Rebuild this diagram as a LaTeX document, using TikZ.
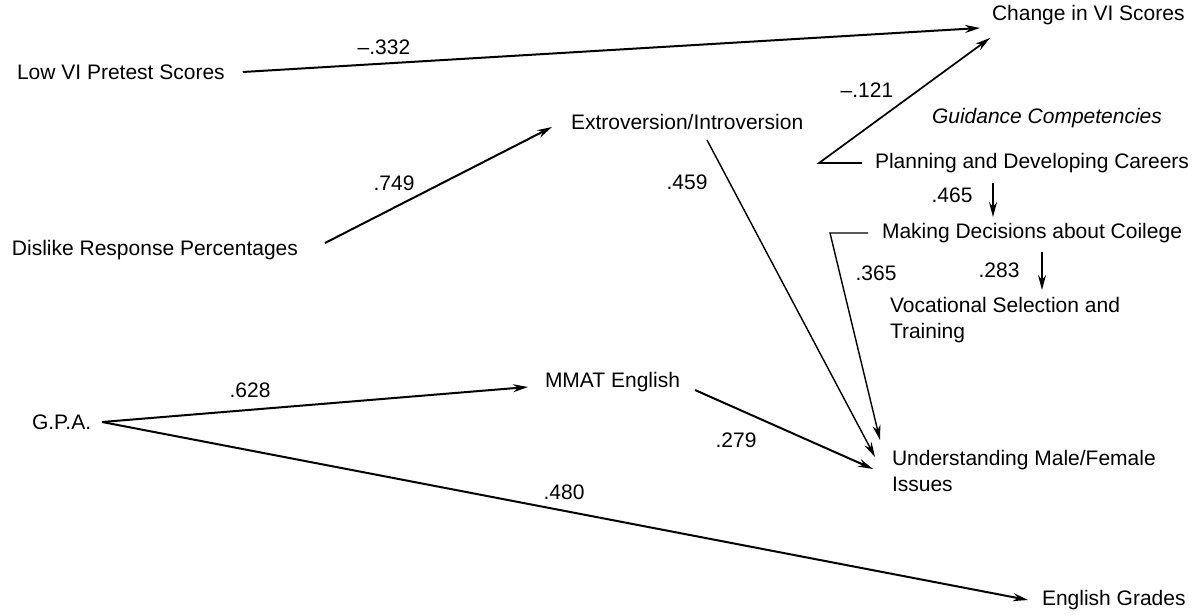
\documentclass[tikz,border=0pt]{standalone}
\usepackage{fontspec}
\setmainfont{Liberation Sans}
\usetikzlibrary{arrows.meta}

\begin{document}
\begin{tikzpicture}[x=1pt, y=-1pt, line width=2pt,
      var/.style={anchor=west, inner sep=0pt, outer sep=0pt, font=\fontsize{21}{26}\selectfont, align=left},
      coef/.style={inner sep=0pt, font=\fontsize{21}{26}\selectfont},
      path/.style={-{Stealth[length=15pt,width=8pt]}},
      thin path/.style={path, line width=1.4pt}]
    \useasboundingbox (0,0) rectangle (1194,615);
    % variables
    \node (low) [var] at (17,72) {Low VI Pretest Scores};
    \node (chg) [var] at (992,15) {Change in VI Scores};
    \node (dis) [var] at (12,250) {Dislike Response Percentages};
    \node (extro) [var] at (571,122) {Extroversion/Introversion};
    \node (guid) [var, font=\fontsize{21}{26}\selectfont\itshape] at (932,118) {Guidance Competencies};
    \node (plan) [var] at (875,163) {Planning and Developing Careers};
    \node (mak) [var] at (882,233) {Making Decisions about Coilege};
    \node (voc) [var] at (890,320) {Vocational Selection and\\Training};
    \node (gpa) [var] at (32,422) {G.P.A.};
    \node (mmat) [var] at (545,382) {MMAT English};
    \node (und) [var] at (892,471) {Understanding Male/Female\\Issues};
    \node (eng) [var] at (1042,600) {English Grades};
    % paths
    \draw [path] ([xshift=18pt]low.east) -- ([xshift=-12pt,yshift=-13pt]chg.west);
    \draw [path] ([xshift=27pt,yshift=7pt]dis.east) -- ([xshift=-19pt,yshift=-5pt]extro.west);
    \draw [thin path] ([xshift=136pt,yshift=-18pt]extro.west) -- ([xshift=-17pt,yshift=14pt]und.west);
    \draw [path, line width=1.7pt] ([xshift=-13pt]plan.west) -- ([xshift=-56pt]plan.west) -- ([xshift=-2pt,yshift=-23pt]chg.west);
    \draw [thin path] ([xshift=118pt,yshift=-20pt]plan.west) -- ([xshift=111pt,yshift=16pt]mak.west);
    \draw [thin path] ([xshift=160pt,yshift=-19pt]mak.west) -- ([xshift=152pt,yshift=30pt]voc.west);
    \draw [thin path] ([xshift=-14pt]mak.west) -- ([xshift=-52pt]mak.west) -- ([xshift=-12pt,yshift=31pt]und.west);
    \draw [path] ([xshift=15pt,yshift=-8pt]mmat.east) -- ([xshift=-19pt,yshift=2pt]und.west);
    \draw [path] ([xshift=11pt]gpa.east) -- ([xshift=-17pt,yshift=-5pt]mmat.west);
    \draw [path] ([xshift=11pt]gpa.east) -- ([xshift=-14pt]eng.west);
    % coefficients
    \node (cA) [coef] at (384,47) {\textendash.332};
    \node (cB) [coef] at (394,183) {.749};
    \node (cC) [coef] at (687,182) {.459};
    \node (cD) [coef] at (867,90) {\textendash.121};
    \node (cE) [coef] at (952,195) {.465};
    \node (cF) [coef] at (999,270) {.283};
    \node (cG) [coef] at (876,273) {.365};
    \node (cH) [coef] at (736,440) {.279};
    \node (cI) [coef] at (250,390) {.628};
    \node (cJ) [coef] at (564,492) {.480};
\end{tikzpicture}
\end{document}
